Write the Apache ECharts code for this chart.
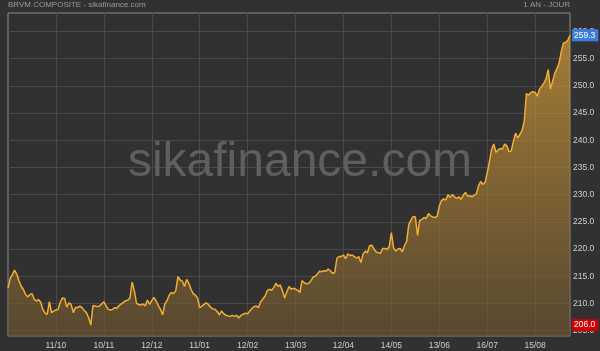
<!DOCTYPE html>
<html><head><meta charset="utf-8">
<script src="https://cdn.jsdelivr.net/npm/echarts@6/dist/echarts.min.js"></script>
<style>html,body{margin:0;padding:0;background:#313131;}#c{width:600px;height:351px;}</style>
</head><body><div id="c"></div>
<script>
const values = [
212.8,214.6,215.3,216.1,215.4,214.2,213.2,212.6,211.7,211.2,
211.6,211.8,210.8,210.4,210.7,210.2,208.9,208.2,208.0,210.3,
208.3,208.6,208.8,208.9,210.2,211.0,210.9,209.3,210.1,209.8,
208.3,209.3,209.2,209.5,209.2,208.7,208.3,207.4,206.0,209.6,
209.5,209.4,209.5,209.9,210.3,209.6,208.9,208.8,
208.9,209.2,209.1,209.6,209.9,210.2,210.5,210.6,211.0,213.9,
212.3,210.0,209.8,209.7,209.9,209.5,210.6,209.8,210.5,211.1,
210.4,209.6,208.9,207.9,209.9,210.5,211.5,212.0,211.8,212.3,
214.9,214.3,214.1,213.1,214.4,213.7,212.6,211.8,211.5,211.0,
209.2,209.5,209.8,210.1,209.8,
209.3,209.0,208.9,208.5,207.9,208.6,208.1,207.8,207.7,207.6,
207.8,207.6,207.8,207.3,207.8,208.0,208.2,208.1,208.6,209.1,
209.4,209.5,209.2,210.3,210.8,211.3,212.3,212.6,212.4,212.9,
213.7,213.1,213.4,212.3,211.0,212.1,213.1,212.6,212.8,212.6,
212.4,212.0,214.2,213.8,213.6,213.7,
214.1,214.8,215.0,215.4,215.9,215.8,216.0,215.9,216.3,216.0,
215.5,215.7,218.3,218.6,218.6,218.9,218.2,219.1,218.8,218.9,
218.6,218.3,218.6,217.5,219.1,219.6,219.3,220.6,220.7,220.0,
219.5,219.3,219.2,220.1,220.1,219.9,220.4,223.0,220.2,219.6,
220.0,220.1,219.5,220.6,221.4,224.5,
225.3,226.0,225.9,222.5,225.3,225.4,225.8,225.6,226.5,226.1,
225.9,225.8,226.0,227.9,228.9,229.2,229.0,230.0,229.5,230.0,
229.6,229.3,229.6,229.1,229.9,230.4,229.7,229.8,229.6,229.9,
230.1,231.6,232.4,231.9,232.2,234.0,236.0,238.3,239.3,237.8,
238.2,
238.5,238.4,239.3,239.0,237.9,238.0,239.8,241.3,240.4,241.1,
241.8,243.5,248.6,248.3,248.8,248.9,248.8,248.1,249.4,249.9,
250.5,251.3,253.0,249.4,250.8,252.3,253.2,254.2,256.3,257.9,
258.0,258.4,259.3
];
const tickIndex = [22,44,66,88,110,132,154,176,198,220,242];
const tickLabels = ['11/10','10/11','12/12','11/01','12/02','13/03','12/04','14/05','13/06','16/07','15/08'];
const yTicks = [205,210,215,220,225,230,235,240,245,250,255,260];
const titleText = 'BRVM COMPOSITE - sikafinance.com';
const periodText = '1 AN - JOUR';
const watermark = 'sikafinance.com';

const categories = values.map((v, i) => 'd' + i);
const lowVal = Math.min(...values);
const lastVal = values[values.length - 1];
const FONT = 'Liberation Sans, Arial, sans-serif';
const isTick = (i) => tickIndex.indexOf(i) >= 0;

const chart = echarts.init(document.getElementById('c'));
chart.setOption({
  animation: false,
  backgroundColor: '#313131',
  grid: {left: 8, right: 30, top: 13, bottom: 15, show: true, borderColor: '#8a8a8a', borderWidth: 1, containLabel: false},
  graphic: [
    {id: 'title', type: 'text', left: 8, top: 1, z: 10, style: {text: titleText, fill: '#9a9a9a', font: '8px ' + FONT}},
    {id: 'period', type: 'text', right: 30, top: 1, z: 10, style: {text: periodText, fill: '#9a9a9a', font: '8px ' + FONT}},
    {id: 'wm', type: 'text', x: 300, y: 187, z: 1, style: {text: watermark, fill: '#5f5f5f', font: '48px ' + FONT, textAlign: 'center', textVerticalAlign: 'bottom'}}
  ],
  xAxis: {
    type: 'category', data: categories, boundaryGap: false,
    axisLine: {show: false}, axisTick: {show: false},
    axisLabel: {interval: (i) => isTick(i), formatter: (v, i) => tickLabels[tickIndex.indexOf(i)] || '', color: '#cfcfcf', fontSize: 8.5, fontFamily: FONT, margin: 5},
    splitLine: {show: true, interval: (i) => isTick(i), lineStyle: {color: '#4a4a4a', width: 1}}
  },
  yAxis: {
    type: 'value', position: 'right', min: 204, max: 263.4, scale: true,
    axisLine: {show: false},
    axisTick: {show: false, customValues: yTicks},
    axisLabel: {customValues: yTicks, formatter: (v) => v.toFixed(1), color: '#cfcfcf', fontSize: 8.5, fontFamily: FONT, margin: 3},
    splitLine: {show: true, lineStyle: {color: '#4a4a4a', width: 1}}
  },
  series: [{
    type: 'line', data: values, showSymbol: false, symbol: 'none', z: 3,
    lineStyle: {color: '#f2ad33', width: 1.5},
    areaStyle: {origin: 'start', color: new echarts.graphic.LinearGradient(0, 0, 0, 1, [
      {offset: 0, color: 'rgba(224,162,58,0.94)'},
      {offset: 1, color: 'rgba(106,84,46,0.94)'}
    ])}
  }]
});

// value markers at the right edge, positioned through the axis scales
const xRight = chart.convertToPixel({xAxisIndex: 0}, categories[categories.length - 1]);
const yLow = chart.convertToPixel({yAxisIndex: 0}, lowVal);
const yLast = chart.convertToPixel({yAxisIndex: 0}, lastVal);
const mk = (id, y, val, bg) => ({
  id: id, type: 'text', x: xRight + 2, y: y, z: 20,
  style: {text: val.toFixed(1), fill: '#ffffff', font: '8.5px ' + FONT, textVerticalAlign: 'middle',
    backgroundColor: bg, padding: [2, 3, 1, 2]}
});
chart.setOption({graphic: [mk('mLow', yLow, lowVal, '#d00000'), mk('mLast', yLast, lastVal, '#3b7ddd')]});
</script></body></html>
